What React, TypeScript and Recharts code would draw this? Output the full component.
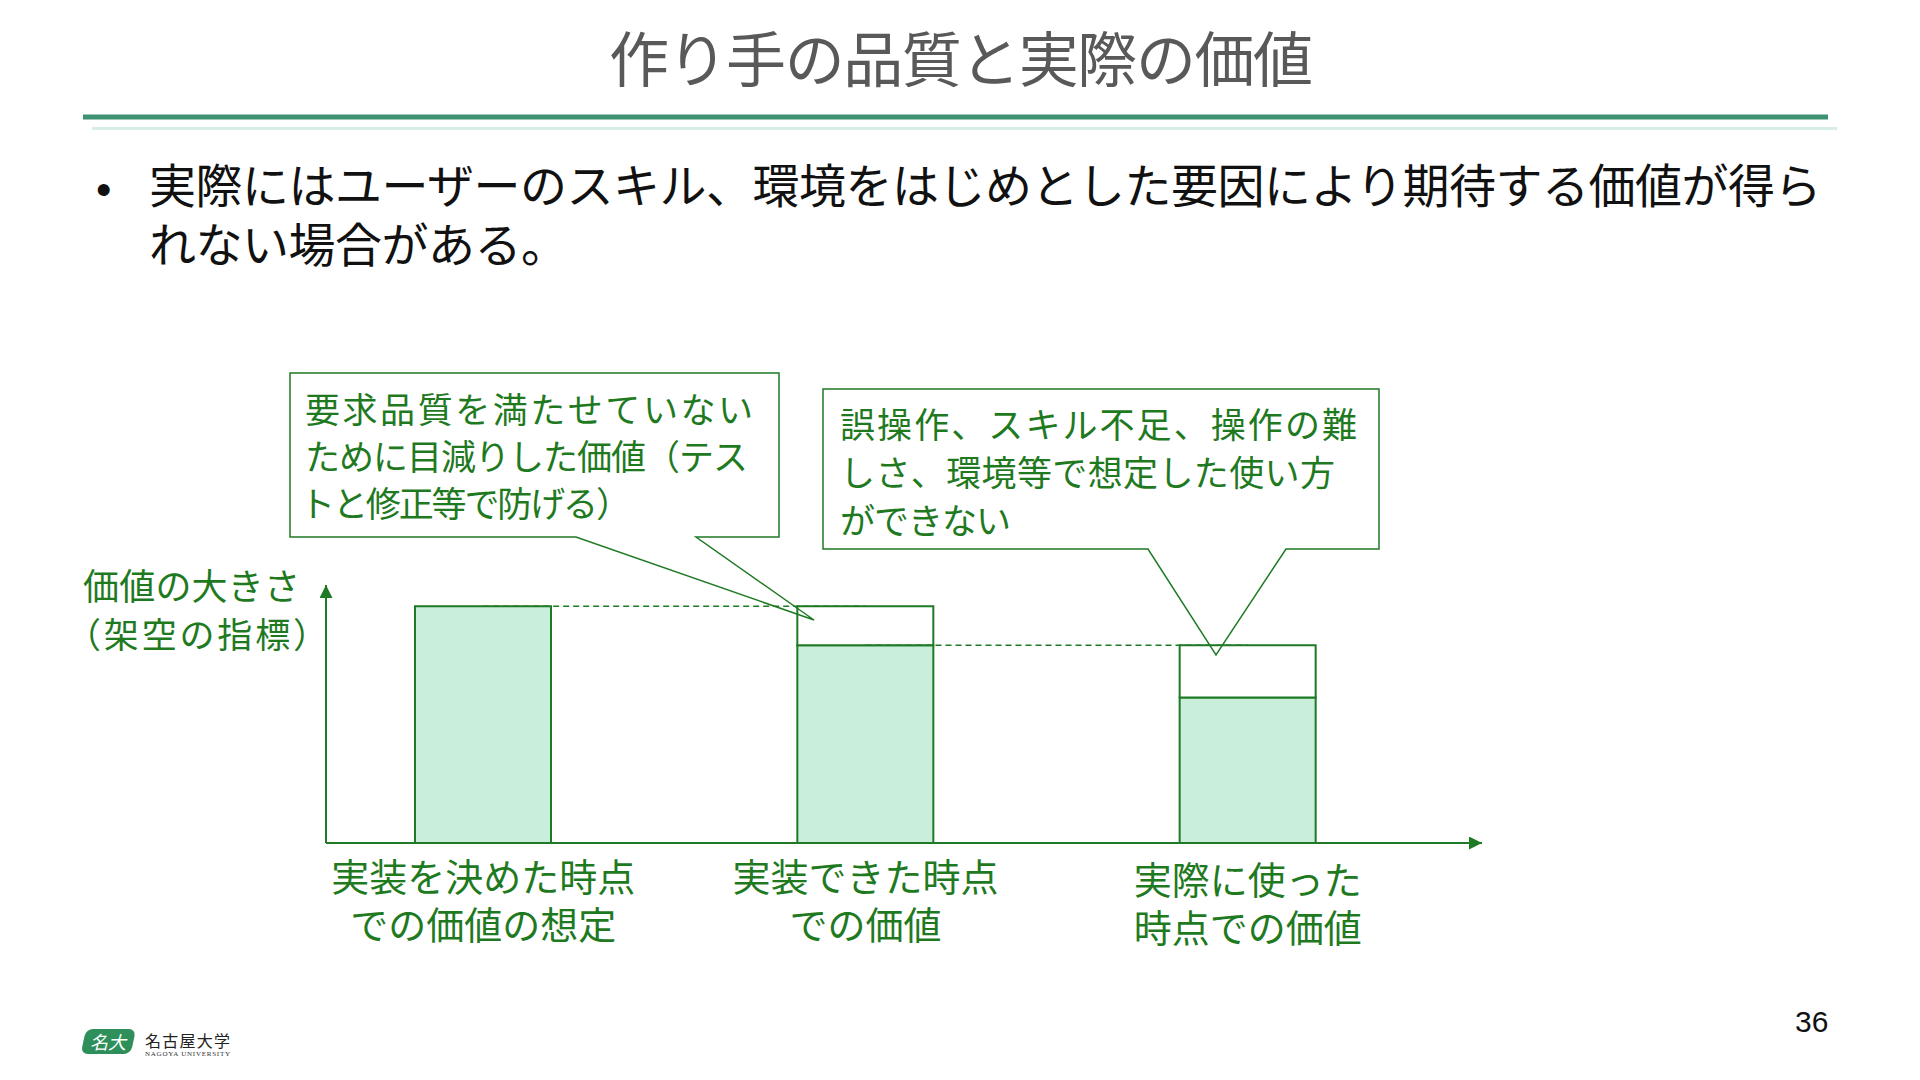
import { BarChart, Bar, XAxis, YAxis, ReferenceLine } from 'recharts';

// slide data
const categories = ['実装を決めた時点での価値の想定', '実装できた時点での価値', '実際に使った時点での価値'];
const categoryLines = [
  ['実装を決めた時点', 'での価値の想定'],
  ['実装できた時点', 'での価値'],
  ['実際に使った', '時点での価値'],
];
const actualValue = [100, 83.5, 61.5];
const lostValue = [0, 16.5, 22];
const yDomain = [0, 109];

const titleText = '作り手の品質と実際の価値';
const bulletLines = ['実際にはユーザーのスキル、環境をはじめとした要因により期待する価値が得ら', 'れない場合がある。'];
const callout1Lines = ['要求品質を満たせていない', 'ために目減りした価値（テス', 'トと修正等で防げる）'];
const callout2Lines = ['誤操作、スキル不足、操作の難', 'しさ、環境等で想定した使い方', 'ができない'];
const yLabelLines = ['価値の大きさ', '（架空の指標）'];
const pageNumber = '36';

const GREEN = '#1f7a25';
const TEXT_GREEN = '#1f7a1f';
const MINT = '#c9eedb';
const FONT = '"Noto Sans CJK JP", "Noto Sans", sans-serif';

const data = categories.map((name, i) => ({ name, actual: actualValue[i], lost: lostValue[i] }));
const connectors = categories.slice(0, -1).map((c, i) => ({ from: c, to: categories[i + 1], level: actualValue[i] }));

function CategoryTick(props: any) {
  const { x, y, payload } = props;
  const idx = categories.indexOf(payload.value);
  const lines = categoryLines[idx] || [];
  // the last label sits a few px lower in the slide
  const shift = idx === 2 ? 3 : 0;
  return (
    <foreignObject x={x - 200} y={y + 8 + shift} width={400} height={110}>
      <div
        style={{
          textAlign: 'center',
          fontSize: 38,
          lineHeight: '48px',
          color: TEXT_GREEN,
          fontFamily: FONT,
          whiteSpace: 'pre-line',
        }}
      >
        {lines.join('\n')}
      </div>
    </foreignObject>
  );
}

export default function App() {
  return (
    <div style={{ position: 'absolute', left: 0, top: 0, width: 1920, height: 1080, background: '#fff', overflow: 'hidden' }}>
      <div style={{ position: 'absolute', left: 0, top: 0 }}>
        <BarChart width={1920} height={1080} data={data} margin={{ top: 585, right: 438, bottom: 117, left: 266 }}>
          <XAxis
            dataKey="name"
            height={120}
            padding={{ left: -34, right: 43 }}
            tickLine={false}
            tickSize={0}
            tickMargin={0}
            tick={<CategoryTick />}
            interval={0}
            axisLine={{ stroke: GREEN, strokeWidth: 2, markerEnd: 'url(#axisArrow)' }}
          />
          <YAxis
            type="number"
            domain={yDomain}
            width={60}
            tick={false}
            tickLine={false}
            axisLine={{ stroke: GREEN, strokeWidth: 2, markerStart: 'url(#axisArrow)' }}
          />
          {connectors.map((c, i) => (
            <ReferenceLine
              key={i}
              segment={[{ x: c.from, y: c.level }, { x: c.to, y: c.level }]}
              stroke={GREEN}
              strokeWidth={1.5}
              strokeDasharray="6 4"
            />
          ))}
          <Bar dataKey="actual" stackId="v" barSize={136} fill={MINT} stroke={GREEN} strokeWidth={2} isAnimationActive={false} />
          <Bar dataKey="lost" stackId="v" barSize={136} fill="#ffffff" stroke={GREEN} strokeWidth={2} isAnimationActive={false} />
        </BarChart>
      </div>

      <svg width={1920} height={1080} style={{ position: 'absolute', left: 0, top: 0, pointerEvents: 'none' }}>
        <defs>
          <marker id="axisArrow" viewBox="0 0 12 12" refX={12} refY={6} markerWidth={13} markerHeight={13} markerUnits="userSpaceOnUse" orient="auto-start-reverse">
            <path d="M0,0 L12,6 L0,12 z" fill={GREEN} />
          </marker>
        </defs>

        {/* header */}
        <text x={961} y={82} textAnchor="middle" fontSize={60} fill="#595959" fontFamily={FONT} textLength={704}>
          {titleText}
        </text>
        <rect x={83} y={114.5} width={1745} height={5} fill="#3d9272" />
        <rect x={92} y={127} width={1745} height={3} fill="#d6eee4" />

        {/* bullet */}
        <text x={96} y={205} fontSize={44} fill="#111" fontFamily='"Liberation Sans", sans-serif'>•</text>

        {/* y axis label */}
        <text x={83} y={600} fontSize={36} fill={TEXT_GREEN} fontFamily={FONT} textLength={217}>{yLabelLines[0]}</text>
        <text x={66} y={648} fontSize={35} fill={TEXT_GREEN} fontFamily={FONT} textLength={262}>{yLabelLines[1]}</text>

        {/* callout 1 */}
        <path d="M290,373 H779 V537 H696 L814,620 L576,537 H290 Z" fill="none" stroke={GREEN} strokeWidth={1.5} />
        {callout1Lines.map((t, i) => (
          <text key={i} x={i === 2 ? 300 : 305} y={423 + i * 47} fontSize={35} fill={TEXT_GREEN} fontFamily={FONT} textLength={[448, 443, 331][i]}>
            {t}
          </text>
        ))}

        {/* callout 2 */}
        <path d="M823,389 H1379 V549 H1286 L1216,655 L1148,549 H823 Z" fill="none" stroke={GREEN} strokeWidth={1.5} />
        {callout2Lines.map((t, i) => (
          <text key={i} x={840} y={438 + i * 48} fontSize={35} fill={TEXT_GREEN} fontFamily={FONT} textLength={[517, 495, 171][i]}>
            {t}
          </text>
        ))}

        {/* footer */}
        <g transform="translate(86,1029)">
          <rect x={0} y={0} width={50} height={25} rx={7} fill="#2f8f5b" transform="skewX(-12)" />
          <text x={22} y={20} textAnchor="middle" fontSize={18} fontStyle="italic" fill="#fff" fontFamily={FONT}>名大</text>
        </g>
        <text x={145} y={1047} fontSize={16} fill="#222" fontFamily={FONT} textLength={85}>名古屋大学</text>
        <text x={145} y={1056} fontSize={7} fill="#333" fontFamily='"Liberation Serif", serif' textLength={85}>NAGOYA UNIVERSITY</text>
        <text x={1795} y={1032} fontSize={30} fill="#111" fontFamily='"Liberation Sans", sans-serif'>{pageNumber}</text>
      </svg>

      {/* bullet body, one text block wrapped over two lines */}
      <div
        style={{
          position: 'absolute',
          left: 149,
          top: 153,
          width: 1760,
          fontSize: 47,
          lineHeight: '59px',
          letterSpacing: -0.5,
          color: '#111',
          fontFamily: FONT,
          whiteSpace: 'pre-line',
        }}
      >
        {bulletLines.join('\n')}
      </div>
    </div>
  );
}
